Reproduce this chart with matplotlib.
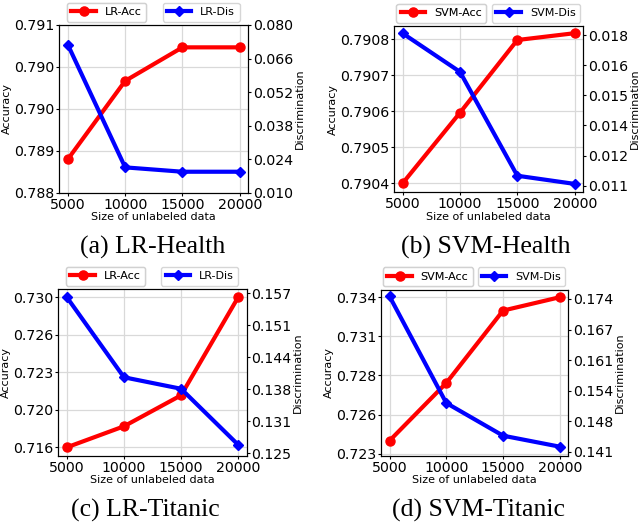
import numpy as np
import matplotlib
matplotlib.use("Agg")
import matplotlib.pyplot as plt

sizes = [5000, 10000, 15000, 20000]

panels = ["LR-Health", "SVM-Health", "LR-Titanic", "SVM-Titanic"]
captions = ["(a) LR-Health", "(b) SVM-Health", "(c) LR-Titanic", "(d) SVM-Titanic"]
acc_names = ["LR-Acc", "SVM-Acc", "LR-Acc", "SVM-Acc"]
dis_names = ["LR-Dis", "SVM-Dis", "LR-Dis", "SVM-Dis"]

acc_lr_health = [0.78860, 0.79000, 0.79060, 0.79060]
dis_lr_health = [0.07168, 0.02056, 0.01874, 0.01874]
acc_svm_health = [0.79040, 0.790596, 0.790798, 0.790817]
dis_svm_health = [0.01808, 0.01629, 0.01146, 0.01108]
acc_lr_titanic = [0.71600, 0.71796, 0.72085, 0.73000]
dis_lr_titanic = [0.1562, 0.1402, 0.1379, 0.1267]
acc_svm_titanic = [0.72391, 0.72797, 0.73306, 0.73400]
dis_svm_titanic = [0.17458, 0.15152, 0.14446, 0.14208]

acc_data = [acc_lr_health, acc_svm_health, acc_lr_titanic, acc_svm_titanic]
dis_data = [dis_lr_health, dis_svm_health, dis_lr_titanic, dis_svm_titanic]

# tick ranges and tick labels (as shown in the reference)
acc_tick_range = [(0.788, 0.791), (0.7904, 0.7908), (0.716, 0.730), (0.723, 0.734)]
acc_tick_labels = [
    ["0.788", "0.789", "0.790", "0.790", "0.791"],
    ["0.7904", "0.7905", "0.7906", "0.7907", "0.7908"],
    ["0.716", "0.720", "0.723", "0.726", "0.730"],
    ["0.723", "0.726", "0.728", "0.731", "0.734"],
]
dis_tick_range = [(0.010, 0.080), (0.011, 0.018), (0.125, 0.157), (0.141, 0.174)]
dis_tick_labels = [
    ["0.010", "0.024", "0.038", "0.052", "0.066", "0.080"],
    ["0.011", "0.012", "0.014", "0.015", "0.016", "0.018"],
    ["0.125", "0.131", "0.138", "0.144", "0.151", "0.157"],
    ["0.141", "0.148", "0.154", "0.161", "0.167", "0.174"],
]
acc_ylim = [(0.788, 0.791), (0.790375, 0.790837), (0.71522, 0.73077), (0.72286, 0.73453)]
dis_ylim = [(0.010, 0.080), (0.01069, 0.01842), (0.12452, 0.15786), (0.14014, 0.17601)]

rects = [
    [0.0927, 0.6337, 0.2953, 0.3188],
    [0.6156, 0.6344, 0.2958, 0.3162],
    [0.0911, 0.1337, 0.2944, 0.3169],
    [0.5953, 0.1337, 0.2927, 0.3156],
]
cap_pos = [(153, 247), (486, 247), (145, 510), (479, 510)]

fig = plt.figure(figsize=(6.4, 5.26), dpi=100)

for i in range(4):
    ax = fig.add_axes(rects[i])
    ax2 = ax.twinx()
    l1, = ax.plot(sizes, acc_data[i], color="red", marker="o", lw=3, ms=6.5,
                  label=acc_names[i])
    l2, = ax2.plot(sizes, dis_data[i], color="blue", marker="D", lw=3, ms=5.5,
                   label=dis_names[i])
    ax.set_xticks(sizes)
    ax.set_xticklabels([str(s) for s in sizes], fontsize=10.2)
    lo, hi = acc_tick_range[i]
    ax.set_yticks(np.linspace(lo, hi, 5))
    ax.set_yticklabels(acc_tick_labels[i], fontsize=10.2)
    ax.set_ylim(*acc_ylim[i])
    lo, hi = dis_tick_range[i]
    ax2.set_yticks(np.linspace(lo, hi, 6))
    ax2.set_yticklabels(dis_tick_labels[i], fontsize=10.2)
    ax2.set_ylim(*dis_ylim[i])
    ax.grid(True, color="0.85", lw=0.9)
    ax.set_axisbelow(True)
    ax.set_xlabel("Size of unlabeled data", fontsize=8, labelpad=0.5)
    ax.set_ylabel("Accuracy", fontsize=8, labelpad=1.5)
    ax2.set_ylabel("Discrimination", fontsize=8, labelpad=0.8)
    for a in (ax, ax2):
        a.tick_params(length=2.5, width=0.8, pad=1)
    leg1 = ax.legend(handles=[l1], loc="lower center", bbox_to_anchor=(0.25, 1.0),
                     fontsize=8, borderaxespad=0.3, handlelength=2.2)
    ax.add_artist(leg1)
    ax2.legend(handles=[l2], loc="lower center", bbox_to_anchor=(0.75, 1.0),
               fontsize=8, borderaxespad=0.3, handlelength=2.2)
    cx, cy = cap_pos[i]
    fig.text(cx / 640, 1 - cy / 526, captions[i], ha="center", va="center",
             fontsize=18.5, family="Liberation Serif")

fig.savefig("out.png", dpi=100)
